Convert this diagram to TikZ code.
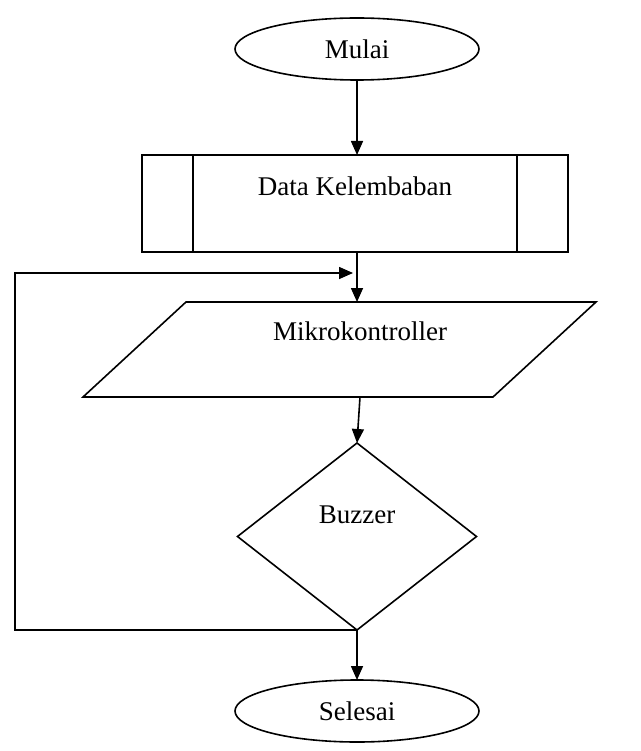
\documentclass[tikz,border=0pt]{standalone}
\usepackage{fontspec}
\setmainfont{Liberation Serif}
\usetikzlibrary{shapes.geometric,arrows.meta}
\begin{document}
\begin{tikzpicture}[x=1pt,y=-1pt,
  shp/.style={draw=black,line width=1.6pt,inner sep=0pt,outer sep=0pt},
  txt/.style={font=\fontsize{27}{32}\selectfont,inner sep=0pt},
  conn/.style={line width=1.6pt,-{Triangle[length=14pt,width=12pt]}},
  plain/.style={line width=1.6pt}]
\useasboundingbox (0,0) rectangle (640,751);
% Mulai
\node[shp,ellipse,minimum width=244pt,minimum height=62pt] (mulai) at (357,49) {};
\node[txt] (tmulai) at (357,49) {Mulai};
% Data Kelembaban
\node[shp,rectangle,minimum width=426pt,minimum height=97pt] (data) at (355,203.5) {};
\draw[plain] (193,155) coordinate (d1) -- (193,252);
\draw[plain] (517,155) coordinate (d2) -- (517,252);
\node[txt] (tdata) at (355,186) {Data Kelembaban};
% Mikrokontroller parallelogram
\coordinate (p1) at (186,302);
\coordinate (p2) at (596,302);
\coordinate (p3) at (493,397);
\coordinate (p4) at (83,397);
\draw[plain,line join=miter] (p1) -- (p2) -- (p3) -- (p4) -- cycle;
\coordinate (ptop) at (357,302);
\coordinate (pbot) at (360,397);
\node[txt] (tmikro) at (360,331) {Mikrokontroller};
% Buzzer diamond
\node[shp,diamond,minimum width=239pt,minimum height=187pt] (buzz) at (357,536.5) {};
\node[txt] (tbuzz) at (357,515) {Buzzer};
% Selesai
\node[shp,ellipse,minimum width=244pt,minimum height=62pt] (selesai) at (357,711) {};
\node[txt] (tsel) at (357,711) {Selesai};
% connectors
\draw[conn] (mulai.south) -- (357,155);
\draw[conn] (357,252) -- (ptop);
\draw[conn] (pbot) -- (buzz.north);
\draw[conn] (buzz.south) -- (selesai.north);
\coordinate (lc1) at (15,630);
\coordinate (lc2) at (15,273);
\coordinate (lend) at (353,273);
\draw[conn] (buzz.south) -- (lc1) -- (lc2) -- (lend);
\end{tikzpicture}
\end{document}
